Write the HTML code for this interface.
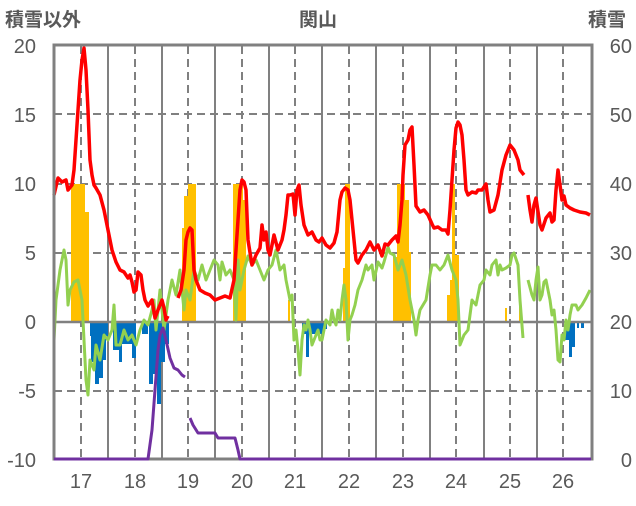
<!DOCTYPE html>
<html><head><meta charset="utf-8"><style>
body{margin:0;background:#fff;}
svg text{font-family:"Liberation Sans","Noto Sans CJK JP",sans-serif;fill:#595959;}
</style></head><body>
<svg width="636" height="501" viewBox="0 0 636 501" xmlns="http://www.w3.org/2000/svg">
<rect width="636" height="501" fill="#fff"/>
<g stroke="#808080" stroke-width="2" stroke-dasharray="8,5">
<line x1="54" y1="114" x2="591" y2="114"/><line x1="54" y1="184" x2="591" y2="184"/>
<line x1="54" y1="253" x2="591" y2="253"/><line x1="54" y1="391" x2="591" y2="391"/>
<line x1="81" y1="46" x2="81" y2="459"/><line x1="135" y1="46" x2="135" y2="459"/>
<line x1="188" y1="46" x2="188" y2="459"/><line x1="242" y1="46" x2="242" y2="459"/>
<line x1="295" y1="46" x2="295" y2="459"/><line x1="349" y1="46" x2="349" y2="459"/>
<line x1="403" y1="46" x2="403" y2="459"/><line x1="456" y1="46" x2="456" y2="459"/>
<line x1="510" y1="46" x2="510" y2="459"/><line x1="563" y1="46" x2="563" y2="459"/>
</g>
<g stroke="#808080" stroke-width="2">
<line x1="108" y1="46" x2="108" y2="459"/><line x1="162" y1="46" x2="162" y2="459"/>
<line x1="215" y1="46" x2="215" y2="459"/><line x1="269" y1="46" x2="269" y2="459"/>
<line x1="322" y1="46" x2="322" y2="459"/><line x1="376" y1="46" x2="376" y2="459"/>
<line x1="430" y1="46" x2="430" y2="459"/><line x1="484" y1="46" x2="484" y2="459"/>
<line x1="537" y1="46" x2="537" y2="459"/>
</g>
<g fill="#FFC000">
<rect x="71" y="184" width="14" height="138"/><rect x="85" y="212" width="4" height="110"/>
<rect x="182" y="228" width="3" height="94"/><rect x="184" y="196" width="4" height="126"/><rect x="188" y="184" width="8" height="138"/>
<rect x="233" y="184" width="10" height="138"/><rect x="243" y="200" width="3" height="122"/>
<rect x="288" y="300" width="2" height="22"/>
<rect x="345" y="184" width="5" height="138"/><rect x="343" y="268" width="2" height="54"/>
<rect x="393" y="257" width="4" height="65"/><rect x="397" y="184" width="8" height="138"/><rect x="405" y="200" width="4" height="122"/><rect x="409" y="252" width="2" height="70"/>
<rect x="447" y="295" width="3" height="27"/><rect x="450" y="280" width="3" height="42"/><rect x="452" y="184" width="3" height="138"/><rect x="455" y="255" width="4" height="67"/>
<rect x="505" y="308" width="2" height="14"/><rect x="519" y="295" width="2" height="27"/>
</g>
<g fill="#0070C0">
<rect x="90" y="322" width="18" height="14"/><rect x="91" y="322" width="4" height="40"/><rect x="95" y="322" width="4" height="62"/><rect x="99" y="322" width="4" height="56"/><rect x="103" y="322" width="3" height="38"/>
<rect x="113" y="322" width="6" height="28"/><rect x="119" y="322" width="3" height="40"/><rect x="122" y="322" width="10" height="22"/><rect x="132" y="322" width="4" height="36"/>
<rect x="142" y="322" width="6" height="12"/><rect x="149" y="322" width="4" height="62"/><rect x="153" y="322" width="4" height="52"/><rect x="157" y="322" width="4" height="82"/><rect x="161" y="322" width="4" height="40"/><rect x="165" y="322" width="4" height="22"/>
<rect x="302" y="322" width="4" height="12"/><rect x="306" y="322" width="3" height="35"/><rect x="309" y="322" width="14" height="12"/><rect x="323" y="322" width="4" height="7"/>
<rect x="565" y="322" width="4" height="18"/><rect x="569" y="322" width="3" height="35"/><rect x="572" y="322" width="3" height="25"/><rect x="577" y="322" width="2" height="6"/><rect x="581" y="322" width="3" height="6"/>
</g>
<line x1="54" y1="322" x2="591" y2="322" stroke="#808080" stroke-width="2.5"/>
<polyline fill="none" stroke="#92D050" stroke-width="3" stroke-linejoin="round" points="54,340 56,300 60,270 64,250 66,260 68,305 70,290 74,282 78,280 82,300 84,340 86,380 88,395 90,360 94,370 96,345 100,360 104,335 108,340 112,330 114,305 116,345 120,345 124,330 128,340 132,335 136,345 140,330 144,320 148,325 152,310 154,300 156,330 158,310 160,290 164,330 168,300 172,280 176,295 180,270 184,310 186,290 190,300 194,270 198,280 202,265 206,280 210,270 214,260 218,265 220,280 222,262 226,275 230,270 234,280 236,320 238,260 240,290 244,270 248,256 252,265 256,260 260,270 264,280 268,270 272,265 276,250 280,270 284,265 286,280 290,300 292,295 294,340 296,330 298,350 300,375 302,340 304,325 306,330 308,320 310,330 312,345 314,340 316,335 318,330 320,340 322,340 326,320 330,325 332,310 334,320 336,325 338,310 340,320 342,300 344,285 346,300 348,340 350,320 352,315 355,305 358,290 362,280 366,265 368,270 372,265 374,280 378,262 382,268 384,262 386,255 388,247 390,253 394,255 398,270 402,260 406,275 410,300 414,320 416,335 418,320 420,310 426,300 430,275 432,265 436,265 440,270 444,265 448,255 452,270 456,280 458,300 460,345 462,340 464,335 468,330 472,300 476,305 480,285 484,280 486,270 490,275 492,265 496,260 498,275 500,265 502,270 506,268 510,265 512,255 514,253 518,265 520,300 523,338"/>
<polyline fill="none" stroke="#92D050" stroke-width="3" stroke-linejoin="round" points="528,280 532,295 534,300 536,280 538,267 540,300 542,295 544,282 546,280 548,290 550,300 552,315 554,310 556,330 558,360 560,362 562,335 564,340 566,320 568,330 570,315 572,305 576,305 578,310 582,305 586,298 590,290"/>
<g fill="none" stroke="#FF0000" stroke-width="3.5" stroke-linejoin="round">
<polyline points="54,195 58,178 62,182 66,180 68,190 72,185 74,170 76,140 78,110 80,80 82,60 84,48 86,70 88,110 90,160 92,175 94,185 96,188 100,195 104,210 108,230 112,250 116,262 120,270 124,272 128,278 130,275 132,282 134,292 136,290 138,272 141,275 143,290 145,300 148,306 152,300 155,318 158,310 162,300 164,308 166,320 168,316"/>
<polyline points="178,298 181,290 184,270 186,240 188,232 190,228 192,230 194,270 196,280 200,290 205,293 210,295 215,300 220,298 225,296 230,298 234,280 238,220 240,190 242,180 244,182 246,190 248,240 252,265 256,255 260,248 262,225 264,240 266,232 268,250 270,255 272,245 274,235 278,250 282,240 284,230 286,215 288,195 290,195 293,194 295,215 297,190 299,185 301,205 304,225 308,235 312,232 316,240 319,242 322,238 326,245 330,248 334,243 337,232 340,200 342,192 345,188 348,190 350,200 353,230 356,260 358,263 362,255 366,250 370,242 374,250 378,245 382,256 385,244 388,245 392,240 396,236 398,242 400,225 402,200 403,175 405,145 408,140 410,130 412,127 414,165 416,206 420,212 424,210 428,215 432,224 434,228 438,227 442,230 446,230 448,234 450,210 452,180 454,150 456,128 458,122 460,125 462,135 464,160 466,190 468,195 472,192 476,193 478,190 482,190 486,184 488,200 490,212 494,210 498,195 502,170 506,155 510,145 514,150 518,160 520,170 524,175"/>
<polyline points="528,195 530,210 532,222 534,205 536,198 540,225 542,230 546,218 550,213 552,222 554,220 556,190 558,170 560,185 562,200 564,196 566,205 570,208 574,210 580,212 586,213 590,215"/>
</g>
<rect x="54" y="45" width="538" height="414" fill="none" stroke="#808080" stroke-width="3"/>
<g fill="none" stroke="#7030A0" stroke-width="3" stroke-linejoin="round">
<polyline points="54,459 148,459 152,430 155,390 158,350 160,335 163,328 166,340 170,358 174,368 178,370 182,375 185,377"/>
<polyline points="190,418 193,425 198,433 215,433 218,438 235,438 238,450 240,459 591,459"/>
</g>
<g font-size="19" font-weight="bold">
<text x="5" y="26">積雪以外</text>
<text x="318" y="26" text-anchor="middle">関山</text>
<text x="588" y="26">積雪</text>
</g>
<g font-size="20" text-anchor="end">
<text x="36" y="53">20</text><text x="36" y="122">15</text><text x="36" y="191">10</text>
<text x="36" y="260">5</text><text x="36" y="329">0</text><text x="36" y="398">-5</text><text x="36" y="467">-10</text>
</g>
<g font-size="20" text-anchor="end">
<text x="632" y="53">60</text><text x="632" y="122">50</text><text x="632" y="191">40</text>
<text x="632" y="260">30</text><text x="632" y="329">20</text><text x="632" y="398">10</text><text x="632" y="467">0</text>
</g>
<g font-size="20" text-anchor="middle">
<text x="81" y="488">17</text><text x="135" y="488">18</text><text x="188" y="488">19</text>
<text x="242" y="488">20</text><text x="295" y="488">21</text><text x="349" y="488">22</text>
<text x="403" y="488">23</text><text x="456" y="488">24</text><text x="510" y="488">25</text><text x="563" y="488">26</text>
</g>
</svg>
</body></html>
